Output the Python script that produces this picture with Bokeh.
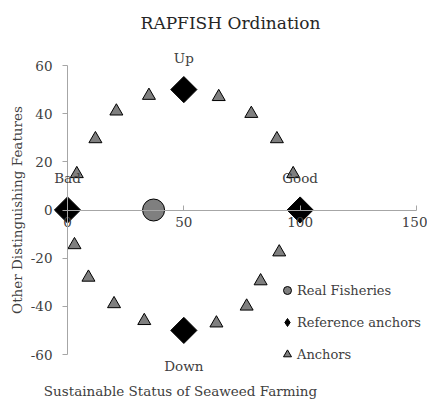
import math
from bokeh.plotting import figure
from bokeh.models import Label, Legend, LegendItem, FixedTicker, Range1d
from bokeh.embed import file_html
from bokeh.resources import INLINE

# ---- data ----
real_x = [37]
real_y = [0]

ref_names = ["Bad", "Good", "Up", "Down"]
ref_x = [0, 100, 50, 50]
ref_y = [0, 0, 50, -50]

anchor_x = [4, 12, 21, 35, 65, 79, 90, 97, 3, 9, 20, 33, 64, 77, 83, 91]
anchor_y = [15, 29.5, 41, 47.5, 47, 40, 29.5, 15, -14.5, -28, -39, -46, -47, -40, -29.5, -17.5]

x_ticks = [0, 50, 100, 150]
y_ticks = [-60, -40, -20, 0, 20, 40, 60]
y_tick_labels = ["-60", "-40", "-20", "0", "20", "40", "60"]

title_text = "RAPFISH Ordination"
x_title = "Sustainable Status of Seaweed Farming"
y_title = "Other Distinguishing Features"
legend_labels = ["Real Fisheries", "Reference anchors", "Anchors"]

# ---- layout constants (pixels) ----
W, H = 427, 401
X0_PX, X150_PX = 67, 416      # where x=0 and x=150 fall
Y60_PX, YM60_PX = 65, 354     # where y=60 and y=-60 fall
x_lo, x_hi = x_ticks[0], x_ticks[-1]
y_lo, y_hi = y_ticks[0], y_ticks[-1]
sx = (X150_PX - X0_PX) / (x_hi - x_lo)
sy = (YM60_PX - Y60_PX) / (y_hi - y_lo)
xr = Range1d(x_lo - X0_PX / sx, x_hi + (W - X150_PX) / sx)
yr = Range1d(y_lo - (H - YM60_PX) / sy, y_hi + Y60_PX / sy)

FONT = "DejaVu Serif"
TXT = "#404040"
AX = "#a6a6a6"
FS = "13.5px"

p = figure(width=W, height=H, x_range=xr, y_range=yr,
           output_backend="svg", toolbar_location=None,
           min_border_left=0, min_border_right=0, min_border_top=0, min_border_bottom=0)
p.outline_line_color = None
p.grid.visible = False
p.background_fill_color = "white"

# axes
xa = p.xaxis[0]
xa.fixed_location = 0
xa.bounds = (x_lo, x_hi)
xa.ticker = FixedTicker(ticks=x_ticks)
xa.axis_line_color = AX
xa.major_tick_line_color = AX
xa.major_tick_in = 5
xa.major_tick_out = 0
xa.minor_tick_line_color = None
xa.major_label_standoff = 7
xa.major_label_text_font = FONT
xa.major_label_text_font_size = FS
xa.major_label_text_color = TXT

ya = p.yaxis[0]
ya.fixed_location = 0
ya.bounds = (y_lo, y_hi)
ya.ticker = FixedTicker(ticks=y_ticks)
ya.major_label_overrides = {t: l for t, l in zip(y_ticks, y_tick_labels)}
ya.axis_line_color = AX
ya.major_tick_line_color = AX
ya.major_tick_in = 0
ya.major_tick_out = 5
ya.minor_tick_line_color = None
ya.major_label_standoff = 10
ya.major_label_text_font = FONT
ya.major_label_text_font_size = FS
ya.major_label_text_color = TXT
ya.axis_label = y_title
ya.axis_label_text_font = FONT
ya.axis_label_text_font_size = FS
ya.axis_label_text_font_style = "normal"
ya.axis_label_text_color = TXT
ya.axis_label_standoff = 3

# glyphs
r_anchor = p.scatter(anchor_x, anchor_y, marker="triangle", size=13,
                     fill_color="#7f7f7f", line_color="#000000", line_width=1)
# legend-only diamond (hidden under the rotated squares)
r_ref_leg = p.scatter(ref_x, ref_y, marker="diamond", size=10,
                      fill_color="#000000", line_color="#000000", line_width=1)
r_ref = p.scatter(ref_x, ref_y, marker="square", size=18.5, angle=math.pi / 4,
                  fill_color="#000000", line_color="#000000", line_width=1)
r_real = p.scatter(real_x, real_y, marker="circle", size=22,
                   fill_color="#7f7f7f", line_color="#000000", line_width=1)

# data labels on the reference anchors
for name, x, y in zip(ref_names, ref_x, ref_y):
    off = -36 if y < 0 else 32
    p.add_layout(Label(x=x, y=y, text=name, y_offset=off, text_align="center",
                       text_baseline="middle", text_font=FONT,
                       text_font_size=FS, text_color=TXT))

# title and x-axis title (screen units from bottom-left of the frame = canvas)
p.add_layout(Label(x=230, y=H - 22, x_units="screen", y_units="screen", text=title_text,
                   text_align="center", text_baseline="middle", text_font=FONT,
                   text_font_size="17px", text_color="#262626"))
p.add_layout(Label(x=180, y=H - 390, x_units="screen", y_units="screen", text=x_title,
                   text_align="center", text_baseline="middle", text_font=FONT,
                   text_font_size=FS, text_color=TXT))

legend = Legend(items=[LegendItem(label=legend_labels[0], renderers=[r_real]),
                       LegendItem(label=legend_labels[1], renderers=[r_ref_leg]),
                       LegendItem(label=legend_labels[2], renderers=[r_anchor])],
                location=(277, H - 365), orientation="vertical",
                border_line_color=None, background_fill_alpha=0,
                padding=0, margin=0, spacing=10,
                glyph_width=20, glyph_height=22, label_height=22, label_standoff=0,
                label_text_font=FONT, label_text_font_size="13px", label_text_color=TXT)
p.add_layout(legend, "center")

open("out.html", "w").write(file_html(p, INLINE))
